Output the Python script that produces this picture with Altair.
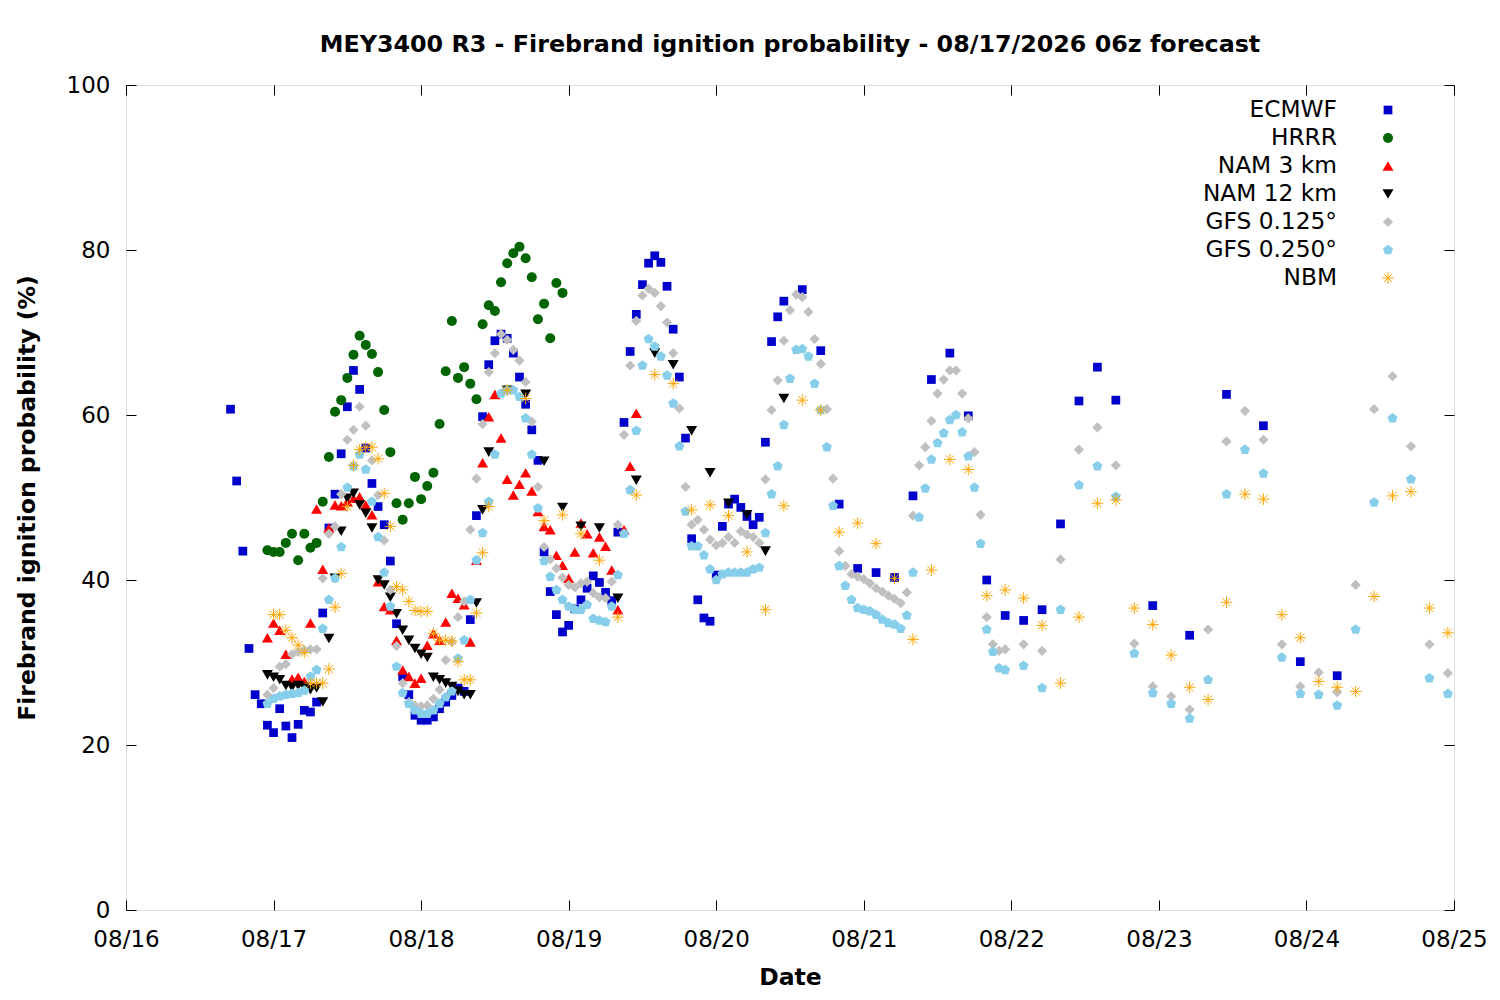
import altair as alt
import pandas as pd

TITLE = "MEY3400 R3 - Firebrand ignition probability - 08/17/2026 06z forecast"
DAY_LABELS = ["08/16", "08/17", "08/18", "08/19", "08/20", "08/21", "08/22", "08/23", "08/24", "08/25"]
Y_TICKS = [0, 20, 40, 60, 80, 100]
SERIES_NAMES = ["ECMWF", "HRRR", "NAM 3 km", "NAM 12 km", "GFS 0.125\u00b0", "GFS 0.250\u00b0", "NBM"]

# valid time in hours counted from 08/16 00:00 (model output steps)
ECMWF_HOURS = list(range(17, 108)) + list(range(110, 162, 3)) + list(range(167, 198, 6))
ECMWF = [
    60.7, 52.0, 43.5, 31.7, 26.1, 25.0, 22.4, 21.5, 24.4, 22.3,
    20.9, 22.5, 24.2, 24.0, 25.2, 36.0, 46.3, 50.4, 55.3, 61.0,
    65.4, 63.1, 56.0, 51.7, 48.9, 46.7, 42.3, 34.7, 28.3, 26.1,
    23.6, 23.0, 23.0, 23.4, 24.4, 25.2, 26.0, 26.9, 26.5, 35.2,
    47.8, 59.8, 66.1, 69.0, 69.8, 69.3, 67.5, 64.6, 61.3, 58.2,
    54.5, 43.4, 38.6, 35.8, 33.7, 34.5, 36.5, 37.6, 39.0, 40.5,
    39.7, 38.5, 37.5, 45.8, 59.1, 67.7, 72.2, 75.8, 78.4, 79.3,
    78.5, 75.6, 70.4, 64.6, 57.2, 45.0, 37.6, 35.4, 35.0, 40.6,
    46.5, 49.2, 49.8, 48.8, 47.7, 46.7, 47.6, 56.7, 68.9, 71.9,
    73.8,
    75.2, 67.8, 49.2, 41.4, 40.9, 40.3, 50.2, 64.3, 67.5, 59.9,
    40.0, 35.7, 35.1, 36.4, 46.8, 61.7, 65.8, 61.8,
    36.9, 33.3, 62.5, 58.7, 30.1, 28.4,
]

HRRR_HOURS = list(range(23, 72))
HRRR = [
    43.6, 43.4, 43.4, 44.5, 45.6, 42.4, 45.6, 43.9, 44.5, 49.5,
    54.9, 60.4, 61.8, 64.5, 67.3, 69.6, 68.5, 67.4, 65.2, 60.6,
    55.5, 49.3, 47.3, 49.3, 52.5, 49.8, 51.4, 53.0, 58.9, 65.3,
    71.4, 64.5, 65.8, 63.8, 61.9, 71.0, 73.3, 72.6, 76.1, 78.4,
    79.6, 80.4, 79.0, 76.7, 71.6, 73.5, 69.3, 76.0, 74.8,
]

NAM3_HOURS = list(range(23, 84))
NAM3 = [
    33.0, 34.8, 33.9, 31.0, 28.0, 28.2, 27.7, 34.8, 48.6, 41.3,
    46.3, 49.1, 49.0, 49.5, 49.9, 50.1, 49.1, 47.9, 39.8, 36.8,
    36.4, 32.7, 29.1, 28.3, 27.5, 28.1, 32.1, 33.5, 32.7, 34.9,
    38.4, 37.8, 37.0, 32.5, 42.4, 54.2, 59.8, 62.5, 57.2, 52.2,
    50.3, 51.6, 53.0, 50.8, 48.3, 46.5, 46.1, 43.0, 41.8, 40.2,
    43.4, 46.9, 45.6, 43.3, 45.2, 44.1, 41.2, 36.4, 46.1, 53.8,
    60.2,
]

NAM12_HOURS = list(range(23, 60)) + list(range(62, 108, 3))
NAM12 = [
    28.5, 28.2, 27.9, 27.2, 27.0, 27.2, 27.0, 26.7, 26.9, 25.2,
    32.9, 40.2, 45.9, 49.9, 50.5, 49.1, 48.1, 46.3, 40.0, 39.4,
    37.9, 35.9, 33.9, 32.7, 31.7, 31.0, 30.6, 28.2, 27.9, 27.5,
    27.1, 26.5, 26.1, 26.1, 37.2, 48.5, 55.5,
    63.0, 62.5, 54.4, 48.8, 46.5, 46.3, 37.8, 52.1, 67.5, 66.1,
    58.1, 53.0, 49.3, 47.9, 43.5, 62.0,
]

GFS_HOURS = list(range(23, 144)) + list(range(146, 216, 3))
GFS125 = [
    26.1, 26.9, 29.5, 29.8, 31.0, 31.3, 31.5, 31.6, 31.6, 40.2,
    45.6, 46.5, 50.4, 57.0, 58.2, 61.0, 58.7, 54.5, 50.3, 44.8,
    38.8, 32.0, 27.5, 25.2, 24.8, 24.7, 24.8, 25.6, 26.7, 30.3,
    32.5, 35.5, 37.4, 46.1, 52.3, 58.9, 65.2, 67.5, 69.8, 69.1,
    67.9, 66.6, 64.0, 59.2, 51.3, 44.0, 42.5, 41.4, 40.3, 39.4,
    39.1, 39.6, 39.8, 38.4, 37.9, 37.8, 39.8, 46.7, 57.6, 66.0,
    71.4, 74.5, 75.3, 74.8, 73.2, 71.2, 67.5, 60.8, 51.3, 46.7,
    47.3, 46.1, 44.9, 44.2, 44.5, 45.2, 44.5, 45.9, 45.5, 45.2,
    44.5, 52.2, 60.6, 64.2, 69.0, 72.7, 74.6, 74.3, 72.5, 69.2,
    66.2, 60.7, 52.3, 43.5, 41.7, 40.7, 40.4, 40.1, 39.6, 39.0,
    38.6, 38.1, 37.7, 37.2, 38.5, 47.8, 53.9, 56.1, 59.3, 62.6,
    64.3, 65.4, 65.4, 62.6, 59.6, 55.5, 47.9, 35.5, 32.2, 31.4,
    31.6,
    32.2, 31.4, 42.5, 55.8, 58.5, 53.9, 32.3, 27.1, 25.9, 24.3,
    34.0, 56.8, 60.5, 57.0, 32.2, 27.1, 28.8, 26.4, 39.4, 60.7,
    64.7, 56.2, 32.2, 28.7,
]
GFS250 = [
    25.0, 25.6, 25.9, 26.1, 26.2, 26.3, 26.6, 28.3, 29.1, 34.1,
    37.6, 40.2, 44.0, 51.2, 53.8, 55.2, 53.4, 49.5, 45.2, 40.9,
    36.8, 29.5, 26.3, 25.0, 24.2, 23.8, 23.8, 24.2, 25.0, 25.8,
    26.5, 30.5, 32.7, 37.6, 42.4, 45.7, 49.5, 55.2, 62.6, 63.0,
    63.0, 62.2, 59.6, 55.2, 48.7, 42.3, 40.4, 38.8, 37.6, 36.8,
    36.4, 36.4, 37.0, 35.3, 35.1, 34.9, 36.8, 40.6, 45.6, 50.9,
    58.1, 66.0, 69.2, 68.3, 67.1, 64.8, 61.4, 56.2, 48.3, 44.1,
    44.1, 43.0, 41.3, 40.0, 40.7, 40.9, 40.9, 40.9, 40.9, 41.3,
    41.5, 45.7, 50.4, 53.8, 58.8, 64.4, 67.9, 68.0, 67.1, 63.8,
    60.6, 56.1, 49.0, 41.7, 39.3, 37.6, 36.6, 36.4, 36.2, 35.8,
    35.2, 34.8, 34.6, 34.1, 35.7, 40.9, 47.6, 51.1, 54.6, 56.6,
    57.8, 59.4, 60.0, 57.9, 55.0, 51.2, 44.4, 34.0, 31.3, 29.3,
    29.1,
    29.6, 26.9, 36.4, 51.5, 53.8, 50.1, 31.1, 26.3, 25.0, 23.2,
    27.9, 50.4, 55.8, 52.9, 30.6, 26.2, 26.1, 24.8, 34.0, 49.4,
    59.6, 52.2, 28.1, 26.2,
]

NBM_HOURS = list(range(24, 60)) + list(range(62, 216, 3))
NBM = [
    35.8, 35.8, 33.9, 33.0, 32.1, 31.2, 27.5, 27.5, 27.5, 29.2,
    36.7, 40.8, 48.9, 53.9, 55.8, 56.1, 56.1, 54.7, 50.5, 46.5,
    39.2, 38.8, 37.4, 36.3, 36.2, 36.2, 33.5, 32.7, 32.7, 32.6,
    30.1, 27.9, 27.9, 36.0, 43.3, 48.9,
    63.0, 62.0, 47.2, 47.9, 45.6, 42.4, 35.5, 50.3, 64.9, 63.8,
    48.5, 49.1, 47.8, 43.4, 36.4, 49.0, 61.8, 60.6, 45.8, 46.9,
    44.4, 40.2, 32.8, 41.2, 54.6, 53.4, 38.1, 38.8, 37.8, 34.5,
    27.5, 35.5, 49.3, 49.7, 36.6, 34.6, 30.9, 27.0, 25.5, 37.3,
    50.4, 49.8, 35.8, 33.0, 27.7, 27.0, 26.5, 38.0, 50.2, 50.7,
    36.6, 33.6,
]

PENTAGON = "M0,-1L0.951,-0.309L0.588,0.809L-0.588,0.809L-0.951,-0.309Z"
ASTERISK = "M-1,0L1,0M0,-1L0,1M-0.707,-0.707L0.707,0.707M-0.707,0.707L0.707,-0.707"

STYLES = [
    # shape, color, size, filled
    ("square", "#0000cd", 76, True),
    ("circle", "#006400", 100, True),
    ("triangle-up", "#ff0000", 121, True),
    ("triangle-down", "#000000", 121, True),
    ("diamond", "#c0c0c0", 105, True),
    (PENTAGON, "#87ceeb", 110, True),
    (ASTERISK, "#ffa500", 136, False),
]

SERIES = [
    (ECMWF_HOURS, ECMWF),
    (HRRR_HOURS, HRRR),
    (NAM3_HOURS, NAM3),
    (NAM12_HOURS, NAM12),
    (GFS_HOURS, GFS125),
    (GFS_HOURS, GFS250),
    (NBM_HOURS, NBM),
]

FONT = "DejaVu Sans"
W, H = 1328, 825
X_TICKS = [24 * i for i in range(len(DAY_LABELS))]
label_expr = "[" + ",".join("'%s'" % d for d in DAY_LABELS) + "][round(datum.value / 24)]"

xs = alt.Scale(domain=[X_TICKS[0], X_TICKS[-1]], nice=False, zero=False)
ys = alt.Scale(domain=[Y_TICKS[0], Y_TICKS[-1]], nice=False, zero=False)

bottom_axis = alt.Axis(
    orient="bottom", values=X_TICKS, labelExpr=label_expr, offset=-10, tickSize=10,
    tickColor="black", tickWidth=1, domain=False, grid=False, labelFlush=False,
    labelOverlap=False, labelFont=FONT, labelFontSize=23, labelColor="black",
    labelPadding=18, title="Date", titleFont=FONT, titleFontSize=23.5,
    titleFontWeight="bold", titleColor="black", titlePadding=14,
)
left_axis = alt.Axis(
    orient="left", values=Y_TICKS, offset=-10, tickSize=10, tickColor="black",
    tickWidth=1, domain=False, grid=False, labelFlush=False, labelOverlap=False,
    labelFont=FONT, labelFontSize=23, labelColor="black", labelPadding=16,
    title="Firebrand ignition probability (%)", titleFont=FONT, titleFontSize=23.5,
    titleFontWeight="bold", titleColor="black", titlePadding=27,
)
top_axis = alt.Axis(
    orient="top", values=X_TICKS, offset=-10, tickSize=10, tickColor="black",
    tickWidth=1, domain=False, grid=False, labels=False, title=None,
)
right_axis = alt.Axis(
    orient="right", values=Y_TICKS, offset=-10, tickSize=10, tickColor="black",
    tickWidth=1, domain=False, grid=False, labels=False, title=None,
)

layers = []
for i, ((hours, vals), (shape, color, size, filled)) in enumerate(zip(SERIES, STYLES)):
    df = pd.DataFrame({"h": hours, "v": vals})
    if i == 0:
        xenc = alt.X("h:Q", scale=xs, axis=bottom_axis)
        yenc = alt.Y("v:Q", scale=ys, axis=left_axis)
    else:
        xenc = alt.X("h:Q", scale=xs, axis=None)
        yenc = alt.Y("v:Q", scale=ys, axis=None)
    layers.append(
        alt.Chart(df).mark_point(shape=shape, color=color, size=size, filled=filled,
                                 opacity=1, strokeWidth=1).encode(x=xenc, y=yenc)
    )

# mirrored inward ticks on top and right edges
mirror_df = pd.DataFrame({"h": ECMWF_HOURS, "v": ECMWF})
layers.append(
    alt.Chart(mirror_df).mark_point(opacity=0).encode(
        x=alt.X("h:Q", scale=xs, axis=top_axis),
        y=alt.Y("v:Q", scale=ys, axis=right_axis),
    )
)

# key in the upper right corner
for i, (name, (shape, color, size, filled)) in enumerate(zip(SERIES_NAMES, STYLES)):
    ky = 25 + 28 * i
    kdf = pd.DataFrame({"series": [name]})
    layers.append(
        alt.Chart(kdf).mark_text(align="right", baseline="middle", font=FONT,
                                 fontSize=23.3, color="black").encode(
            x=alt.value(1211), y=alt.value(ky), text="series:N")
    )
    layers.append(
        alt.Chart(kdf).mark_point(shape=shape, color=color, size=size, filled=filled,
                                  opacity=1, strokeWidth=1).encode(
            x=alt.value(1262), y=alt.value(ky))
    )

chart = alt.layer(*layers).resolve_axis(x="independent", y="independent").properties(
    width=W, height=H,
    title=alt.TitleParams(text=TITLE, font=FONT, fontSize=23.8, fontWeight="bold",
                          anchor="middle", frame="group", offset=17, color="black"),
    autosize=alt.AutoSizeParams(type="none"),
    padding={"left": 118, "top": 77, "right": 38, "bottom": 82},
).configure_view(stroke="black", strokeWidth=1).configure(background="white")

chart.save("out.html", embed_options={"renderer": "svg", "actions": False})
